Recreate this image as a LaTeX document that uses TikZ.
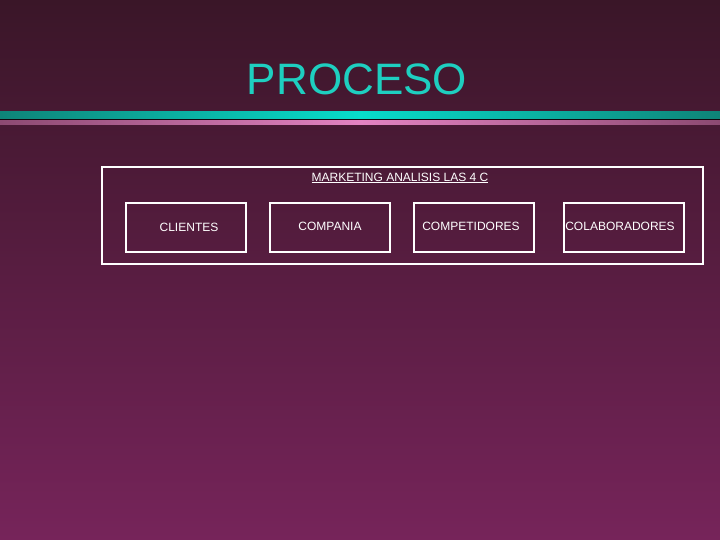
\documentclass[tikz,border=0pt]{standalone}
\usepackage{fontspec}
\setmainfont{Liberation Sans}
\begin{document}
\begin{tikzpicture}[x=1pt,y=-1pt,
  bx/.style={draw=white,line width=2pt,minimum width=120pt,minimum height=48pt,inner sep=0pt},
  lbl/.style={text=white,font=\fontsize{12}{14}\selectfont}]
\definecolor{bgtop}{HTML}{3A1628}
\definecolor{bgbot}{HTML}{76245A}
\definecolor{tealhi}{HTML}{08DCCB}
\definecolor{teallo}{HTML}{0E8478}
\definecolor{pinkhi}{HTML}{E383C2}
\definecolor{pinklo}{HTML}{8C4A72}
\definecolor{titlec}{HTML}{1ECFC0}
\useasboundingbox (0,0) rectangle (720,540);
\shade[top color=bgtop,bottom color=bgbot] (0,0) rectangle (720,540);
% header lines
\fill[color=black!70!bgtop] (0,119) rectangle (720,121);
\shade[left color=teallo,right color=tealhi] (0,112) rectangle (360,119);
\shade[left color=tealhi,right color=teallo] (360,112) rectangle (720,119);
\shade[left color=pinklo,right color=pinkhi] (0,121) rectangle (360,125);
\shade[left color=pinkhi,right color=pinklo] (360,121) rectangle (720,125);
% title
\node[text=titlec,font=\fontsize{44}{50}\selectfont,inner sep=0pt] (title) at (357,79) {PROCESO};
% outer box
\node[draw=white,line width=2pt,minimum width=601pt,minimum height=96pt,inner sep=0pt] (outer) at (402,215.5) {};
\node[lbl,inner sep=0pt] (head) at (400,178) {\underline{MARKETING ANALISIS LAS 4 C}};
% inner boxes
\node[bx] (b1) at (185.5,227.5) {};
\node[bx] (b2) at (329.5,227.5) {};
\node[bx] (b3) at (473.5,227.5) {};
\node[bx] (b4) at (623.5,227.5) {};
\node[lbl,inner sep=0pt] (t1) at (189,227.5) {CLIENTES};
\node[lbl,inner sep=0pt] (t2) at (330,226) {COMPANIA};
\node[lbl,inner sep=0pt] (t3) at (471,226) {COMPETIDORES};
\node[lbl,inner sep=0pt] (t4) at (620,226) {COLABORADORES};
\end{tikzpicture}
\end{document}
